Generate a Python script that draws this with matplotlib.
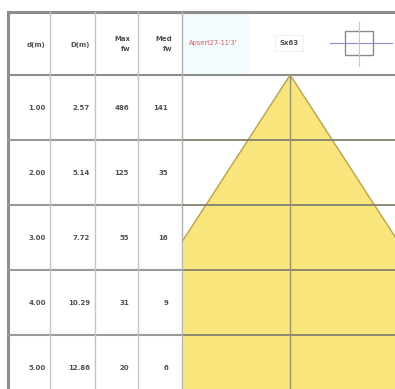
import matplotlib.pyplot as plt
import numpy as np
from matplotlib.patches import Rectangle

# depth table
depth = np.array([1.00, 2.00, 3.00, 4.00, 5.00])
diameter = np.array([2.57, 5.14, 7.72, 10.29, 12.86])
max_fw = [486, 125, 55, 31, 20]
med_fw = [141, 35, 16, 9, 6]

headers = ["d(m)", "D(m)", "Max\nfw", "Med\nfw"]
red_label = "Apsert27-11'3'"
box_label = "Sx63"

W, H = 395, 389
fig = plt.figure(figsize=(W / 100, H / 100), dpi=100)
fig.patch.set_facecolor("white")

# layout axes in pixel units
ax = fig.add_axes([0, 0, 1, 1])
ax.set_xlim(0, W)
ax.set_ylim(H, 0)
ax.axis("off")

top, head_bot, row_h = 12, 75, 65
col_x = [8, 50, 95, 138, 182]
grey = "#9a9a9a"

# header background behind red caption
ax.add_patch(Rectangle((183, top + 2), 65, head_bot - top - 3, color="#f2fbfd", zorder=0))

# cone diagram in metres
ax2 = fig.add_axes([183 / W, 0, (W - 183) / W, (H - head_bot) / H])
ax2.set_xlim(-3.27, 3.2)
ax2.set_ylim((H - head_bot) / row_h, 0)
ax2.axis("off")
d_all = np.concatenate([[0], depth, [depth[-1] + 1]])
D_all = np.concatenate([[0], diameter, [diameter[-1] + diameter[0]]])
ax2.fill_betweenx(d_all, -D_all / 2, D_all / 2, color="#f8e67c", zorder=1)
ax2.plot(-D_all / 2, d_all, color="#b9a45a", lw=1.0, zorder=2)
ax2.plot(D_all / 2, d_all, color="#b9a45a", lw=1.0, zorder=2)
for d in depth:
    ax2.axhline(d, color="#85806e", lw=1.3, zorder=3)
ax2.plot([0, 0], [0, 10], color="#9a9272", lw=1.0, zorder=3)

# table grid
ax.plot([col_x[0], W], [top, top], color="#8d8d8d", lw=2.2)
ax.plot([col_x[0], col_x[0]], [top, H], color="#8d8d8d", lw=2.2)
ax.plot([col_x[0], W], [head_bot, head_bot], color="#8d8d8d", lw=1.5)
for i in range(1, len(depth)):
    y = head_bot + i * row_h
    ax.plot([col_x[0], 183], [y, y], color=grey, lw=1.5)
for x in col_x[1:4]:
    ax.plot([x, x], [top, H], color="#c4c4c4", lw=1.0)
ax.plot([182, 182], [top, H], color="#b0b0b0", lw=1.0)

# header text
txt = dict(fontsize=5.0, color="#505050", ha="right", va="center", fontweight="bold")
ax.text(45, 45, headers[0], **txt)
ax.text(90, 45, headers[1], **txt)
ax.text(130, 44, headers[2], linespacing=1.8, **txt)
ax.text(172, 44, headers[3], linespacing=1.8, **txt)
ax.text(213, 43, red_label, fontsize=4.8, color="#e0565a", ha="center", va="center")
ax.text(289, 43, box_label, fontsize=5.0, color="#505050", ha="center", va="center",
        fontweight="bold",
        bbox=dict(boxstyle="square,pad=0.7", fc="white", ec="#d4d4d4", ls=":", lw=0.6))

# symbol at top right
ax.plot([330, 392], [43, 43], color="#8c8cc8", lw=0.8)
ax.plot([359, 359], [22, 66], color="#c8c8c8", lw=0.8)
ax.add_patch(Rectangle((345, 31), 28, 24, fill=False, ec="#8a8a8a", lw=1.0))

# row values
for i in range(len(depth)):
    y = head_bot + i * row_h + 33
    ax.text(46, y, f"{depth[i]:.2f}", **txt)
    ax.text(90, y, f"{diameter[i]:.2f}", **txt)
    ax.text(129, y, str(max_fw[i]), **txt)
    ax.text(168, y, str(med_fw[i]), **txt)

fig.savefig("out.png", dpi=100)
